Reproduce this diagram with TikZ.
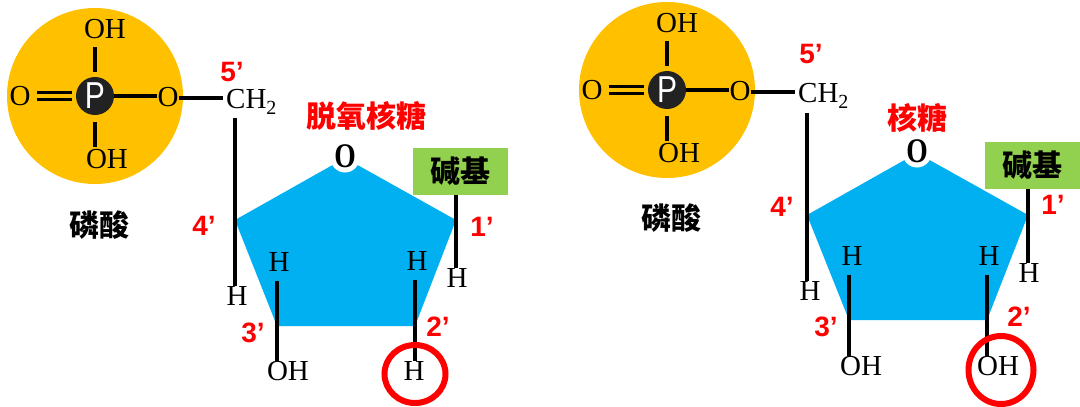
\documentclass[tikz,border=0pt]{standalone}
\usepackage{fontspec}
\setmainfont{Liberation Serif}
\setsansfont{Liberation Sans}
\newfontfamily\cjk{Noto Sans CJK SC}
\usetikzlibrary{shapes.geometric}
\definecolor{phosorange}{HTML}{FFC000}
\definecolor{pdark}{HTML}{222222}
\definecolor{sugarblue}{HTML}{00B0F0}
\definecolor{basegreen}{HTML}{92D050}
\tikzset{
	atom/.style={inner sep=0pt, font=\fontsize{29}{30}\selectfont},
	bond/.style={line width=3.4pt, black},
	num/.style={inner sep=0pt, text=red, font=\sffamily\bfseries\fontsize{28}{30}\selectfont},
	cjklabel/.style={inner sep=0pt, font=\cjk\bfseries\fontsize{30}{32}\selectfont},
	phosphate/.style={circle, fill=phosorange, minimum size=176pt, inner sep=0pt},
	phos/.style={circle, fill=pdark, text=white, minimum size=38pt, inner sep=0pt, font=\sffamily\fontsize{30}{30}\selectfont},
	ringo/.style={ellipse, fill=white, minimum width=27pt, minimum height=33pt, inner sep=0pt, font=\bfseries\fontsize{30}{30}\selectfont},
	basebox/.style={fill=basegreen, minimum width=95pt, minimum height=47pt, inner sep=0pt, font=\cjk\bfseries\fontsize{30}{32}\selectfont}
}
\begin{document}
\begin{tikzpicture}[x=1pt, y=-1pt]
	\useasboundingbox (0,0) rectangle (1080,407);

	% deoxyribose side
	\begin{scope}[name prefix=d-]
		\node[phosphate] (pcircle) at (95,96) {};
		\node[phos] (p) at (95,96) {\scalebox{1}[1.25]{P}};
		\node[atom] (otop) at (105,29) {OH};
		\node[atom] (obot) at (107,159) {OH};
		\node[atom] (oleft) at (20,96) {O};
		\node[atom] (oright) at (168,97) {O};
		\node[atom, anchor=base west] (ch) at (226,108) {CH\raisebox{-6pt}{\fontsize{20}{20}\selectfont 2}};
		\node[cjklabel] (acid) at (99,225) {磷酸};

		\coordinate (c1) at (456,220);
		\coordinate (c2) at (415,326);
		\coordinate (c3) at (277,326);
		\coordinate (c4) at (235,220);
		\coordinate (c0) at (345,158);
		\fill[sugarblue] (c0) -- (c1) -- (c2) -- (c3) -- (c4) -- cycle;
		\node[ringo] (oring) at (345,156) {\scalebox{0.92}[1.15]{O}};
		\node[basebox] (baseb) at (460.5,171.5) {碱基};

		\node[atom] (h4) at (237,296) {H};
		\node[atom] (h3) at (279,262) {H};
		\node[atom] (h2) at (417,261) {H};
		\node[atom] (h1) at (457,278) {H};
		\node[atom] (oh3) at (288,371) {OH};
		\node[atom] (hx) at (414,371) {H};

		\draw[bond, shorten >=5pt] (95,47) -- (p.north);
		\draw[bond, shorten <=7pt] (p.south) -- (95,147);
		\draw[bond, line width=3pt, shorten >=4pt] ([yshift=-3.5pt]oleft.east) ++(6,0) -- ([yshift=-3.5pt]p.west);
		\draw[bond, line width=3pt, shorten >=4pt] ([yshift=3.5pt]oleft.east) ++(6,0) -- ([yshift=3.5pt]p.west);
		\draw[bond] (p.east) -- (p.east -| oright.west);
		\draw[bond] (oright.east) ++(0,1) -- (223,98);
		\draw[bond] (c4 |- 0,118) -- (c4 |- h4.north);
		\draw[bond, shorten >=9pt] (c3) -- (c3 |- h3.south);
		\draw[bond] (c3) -- (c3 |- oh3.north);
		\draw[bond, shorten >=9pt] (c2) -- (c2 |- h2.south);
		\draw[bond] (c2) -- (c2 |- hx.north);
		\draw[bond] (c1 |- baseb.south) -- (c1 |- h1.north);

		\draw[red, line width=6pt] (415,374) ellipse (30.5pt and 29pt);

		\node[num] (n5) at (232,72) {5’};
		\node[num] (n4) at (204,226) {4’};
		\node[num] (n3) at (253,333) {3’};
		\node[num] (n2) at (438,327) {2’};
		\node[num] (n1) at (482,227) {1’};
		\node[cjklabel, text=red] (sugar) at (366,116) {脱氧核糖};
	\end{scope}

	% ribose side
	\begin{scope}[name prefix=r-, shift={(572,-6)}]
		\node[phosphate] (pcircle) at (95,96) {};
		\node[phos] (p) at (95,96) {\scalebox{1}[1.25]{P}};
		\node[atom] (otop) at (105,29) {OH};
		\node[atom] (obot) at (107,159) {OH};
		\node[atom] (oleft) at (20,96) {O};
		\node[atom] (oright) at (168,97) {O};
		\node[atom, anchor=base west] (ch) at (226,108) {CH\raisebox{-6pt}{\fontsize{20}{20}\selectfont 2}};
		\node[cjklabel] (acid) at (99,224) {磷酸};

		\coordinate (c1) at (456,221);
		\coordinate (c2) at (415,326);
		\coordinate (c3) at (277,326);
		\coordinate (c4) at (235,221);
		\coordinate (c0) at (345,159);
		\fill[sugarblue] (c0) -- (c1) -- (c2) -- (c3) -- (c4) -- cycle;
		\node[ringo] (oring) at (345,157) {\scalebox{0.92}[1.15]{O}};
		\node[basebox] (baseb) at (460.5,171.5) {碱基};

		\node[atom] (h4) at (238,297) {H};
		\node[atom] (h3) at (280,262) {H};
		\node[atom] (h2) at (417,262) {H};
		\node[atom] (h1) at (457,279) {H};
		\node[atom] (oh3) at (289,372) {OH};
		\node[atom] (ohx) at (426,372) {OH};

		\draw[bond, shorten >=5pt] (95,47) -- (p.north);
		\draw[bond, shorten <=7pt] (p.south) -- (95,147);
		\draw[bond, line width=3pt, shorten >=4pt] ([yshift=-3.5pt]oleft.east) ++(6,0) -- ([yshift=-3.5pt]p.west);
		\draw[bond, line width=3pt, shorten >=4pt] ([yshift=3.5pt]oleft.east) ++(6,0) -- ([yshift=3.5pt]p.west);
		\draw[bond] (p.east) -- (p.east -| oright.west);
		\draw[bond] (oright.east) ++(0,1) -- (223,98);
		\draw[bond] (c4 |- 0,119) -- (c4 |- h4.north);
		\draw[bond, shorten >=9pt] (c3) -- (c3 |- h3.south);
		\draw[bond] (c3) -- (c3 |- oh3.north);
		\draw[bond, shorten >=9pt] (c2) -- (c2 |- h2.south);
		\draw[bond] (c2) -- (c2 |- ohx.north);
		\draw[bond] (c1 |- baseb.south) -- (c1 |- h1.north);

		\draw[red, line width=6pt] (429,376) ellipse (32.5pt and 34pt);

		\node[num] (n5) at (239,60) {5’};
		\node[num] (n4) at (210,213) {4’};
		\node[num] (n3) at (254,333) {3’};
		\node[num] (n2) at (447,323) {2’};
		\node[num] (n1) at (481,211) {1’};
		\node[cjklabel, text=red] (sugar) at (345,124) {核糖};
	\end{scope}
\end{tikzpicture}
\end{document}
